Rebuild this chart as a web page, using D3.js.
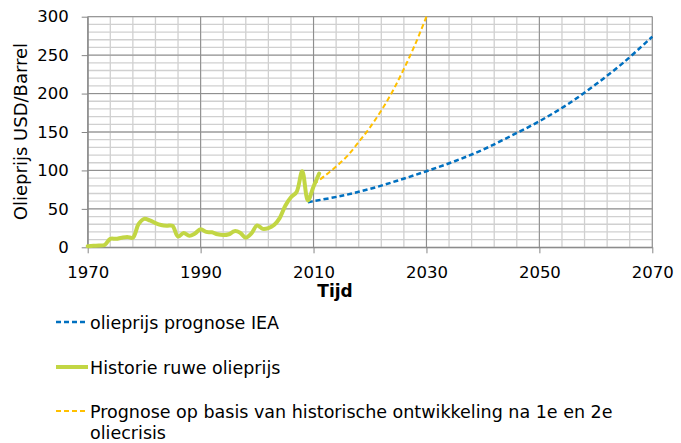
<!DOCTYPE html>
<html>
<head>
<meta charset="utf-8">
<script src="https://cdn.jsdelivr.net/npm/d3@7"></script>
<style>
  html, body { margin: 0; padding: 0; background: #fff; }
  svg { display: block; font-family: "DejaVu Sans", Verdana, sans-serif; }
</style>
</head>
<body>
<svg id="chart" width="681" height="443"></svg>
<script>
// Historical crude oil price (USD/barrel), yearly
const histYears = [1970,1971,1972,1973,1974,1975,1976,1977,1978,1979,
                   1980,1981,1982,1983,1984,1985,1986,1987,1988,1989,
                   1990,1991,1992,1993,1994,1995,1996,1997,1998,1999,
                   2000,2001,2002,2003,2004,2005,2006,2007,2008,2009,
                   2010,2011];
const histPrice = [1.5,2,2.2,3,11,11,12.5,13.5,12.5,30,
                   37,35,31.5,29,28,28,14,18.5,15,18,
                   23.5,20,19.5,17,16,17,21,19,12.5,18,
                   28.5,24,25,29,38,54,65,72,99,61,
                   79,96];

// IEA price forecast
const ieaYears = [2009,2010,2015,2020,2025,2030,2035,2040,2045,2050,2055,2060,2065,2070];
const ieaPrice = [58.5,60,67,76,87,99,112,127,145,164,186,212,241,274];

// Forecast based on the price development after the 1st and 2nd oil crisis
const crisisYears = [2010,2012,2014,2016,2018,2020,2022,2024,2026,2028,2030];
const crisisPrice = [82,93,105,119,137,156,178,203,232,264,300];

// Axis ticks
const xTicks = [1970,1990,2010,2030,2050,2070];
const yTicks = [0,50,100,150,200,250,300];

const legendItems = [
  { label: "olieprijs prognose IEA", color: "#0070c0", width: 2.5, dash: "5,3" },
  { label: "Historie ruwe olieprijs", color: "#c2d644", width: 4, dash: null },
  { label: "Prognose op basis van historische ontwikkeling na 1e en 2e oliecrisis", color: "#ffc000", width: 2, dash: "5,3" }
];

const svg = d3.select("#chart");
const x = d3.scaleLinear().domain([1970, 2070]).range([87.7, 652.3]);
const y = d3.scaleLinear().domain([0, 300]).range([247.3, 16.7]);

// Gridlines: minor (every 4 years / 10 USD) then major (every 20 years / 50 USD)
const grid = svg.append("g");
grid.selectAll("line.vminor").data(d3.range(1970, 2071, 4)).join("line")
  .attr("x1", d => x(d)).attr("x2", d => x(d))
  .attr("y1", y(0)).attr("y2", y(300))
  .attr("stroke", "#d0d0d0").attr("stroke-width", 1.3);
grid.selectAll("line.hminor").data(d3.range(0, 301, 10)).join("line")
  .attr("x1", x(1970)).attr("x2", x(2070))
  .attr("y1", d => y(d)).attr("y2", d => y(d))
  .attr("stroke", "#d0d0d0").attr("stroke-width", 1.3);
grid.selectAll("line.vmajor").data(xTicks).join("line")
  .attr("x1", d => x(d)).attr("x2", d => x(d))
  .attr("y1", y(0)).attr("y2", y(300))
  .attr("stroke", "#8c8c8c").attr("stroke-width", 1);
grid.selectAll("line.hmajor").data(yTicks).join("line")
  .attr("x1", x(1970)).attr("x2", x(2070))
  .attr("y1", d => y(d)).attr("y2", d => y(d))
  .attr("stroke", "#8c8c8c").attr("stroke-width", 1);

// Axes
const xAxis = svg.append("g").attr("transform", `translate(0,${y(0)})`)
  .call(d3.axisBottom(x).tickValues(xTicks).tickFormat(d3.format("d"))
        .tickSize(6).tickSizeOuter(0).tickPadding(13));
const yAxis = svg.append("g").attr("transform", `translate(${x(1970)},0)`)
  .call(d3.axisLeft(y).tickValues(yTicks).tickSize(6).tickSizeOuter(0).tickPadding(13));
[xAxis, yAxis].forEach(a => {
  a.selectAll("path, line").attr("stroke", "#868686");
  a.selectAll("text").attr("fill", "#000").style("font-size", "16.5px")
    .style("font-family", "'DejaVu Sans', Verdana, sans-serif");
});

// Axis titles
svg.append("text")
  .attr("x", 335).attr("y", 297)
  .attr("text-anchor", "middle")
  .style("font-size", "17px").style("font-weight", "bold")
  .text("Tijd");
svg.append("text")
  .attr("transform", "translate(26.5,131.5) rotate(-90)")
  .attr("text-anchor", "middle")
  .style("font-size", "18px")
  .text("Olieprijs USD/Barrel");

// Series
const line = d3.line().x(d => x(d[0])).y(d => y(d[1])).curve(d3.curveCatmullRom.alpha(0.5));
const plot = svg.append("g");

plot.append("path")
  .datum(d3.zip(ieaYears, ieaPrice))
  .attr("d", line).attr("fill", "none")
  .attr("stroke", legendItems[0].color).attr("stroke-width", legendItems[0].width)
  .attr("stroke-dasharray", legendItems[0].dash);

plot.append("path")
  .datum(d3.zip(crisisYears, crisisPrice))
  .attr("d", line).attr("fill", "none")
  .attr("stroke", legendItems[2].color).attr("stroke-width", legendItems[2].width)
  .attr("stroke-dasharray", legendItems[2].dash);

plot.append("path")
  .datum(d3.zip(histYears, histPrice))
  .attr("d", line).attr("fill", "none")
  .attr("stroke", legendItems[1].color).attr("stroke-width", legendItems[1].width)
  .attr("stroke-linejoin", "round").attr("stroke-linecap", "round");

// Legend
const legendY = [322, 367, 411];
const legend = svg.append("g");
legendItems.forEach((item, i) => {
  const g = legend.append("g").attr("transform", `translate(0,${legendY[i]})`);
  g.append("line")
    .attr("x1", 56).attr("x2", 88).attr("y1", 0).attr("y2", 0)
    .attr("stroke", item.color).attr("stroke-width", item.width)
    .attr("stroke-dasharray", item.dash);
  const t = g.append("text").attr("x", 90).attr("y", 6.5).style("font-size", "17.5px");
  // wrap long labels onto a second line
  const words = item.label.split(" ");
  let tspan = t.append("tspan").attr("x", 90).attr("dy", 0);
  let current = [];
  words.forEach(w => {
    current.push(w);
    tspan.text(current.join(" "));
    if (tspan.node().getComputedTextLength() > 560 && current.length > 1) {
      current.pop();
      tspan.text(current.join(" "));
      current = [w];
      tspan = t.append("tspan").attr("x", 90).attr("dy", "1.2em").text(w);
    }
  });
});
</script>
</body>
</html>
